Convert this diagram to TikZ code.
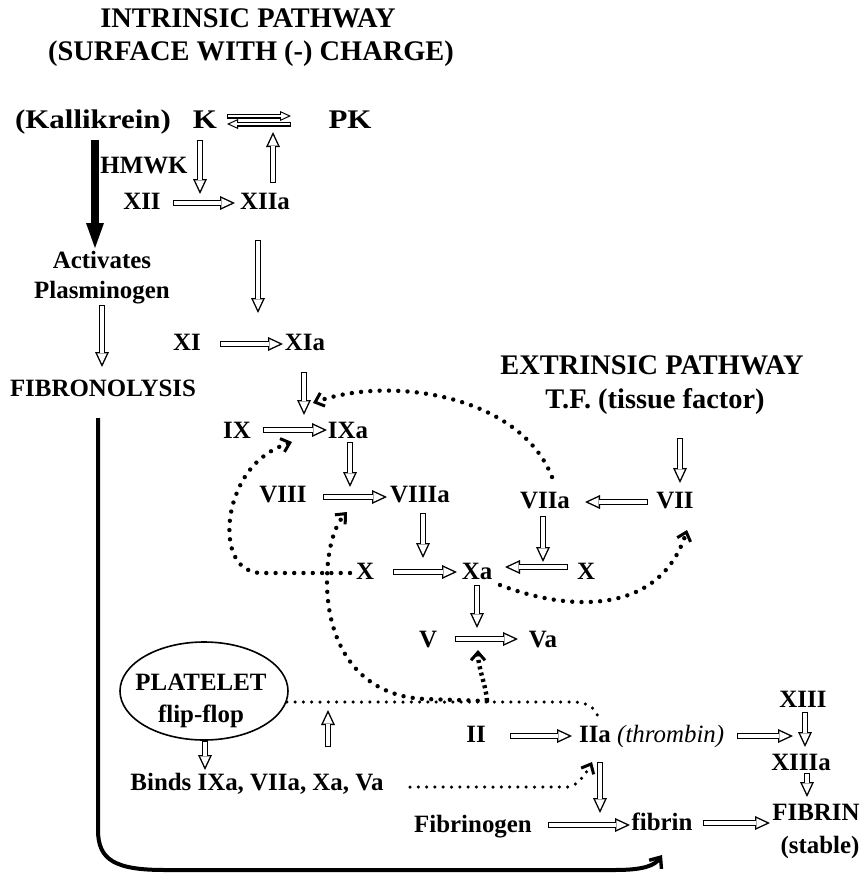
\documentclass[tikz,border=0pt]{standalone}
\usepackage{fontspec}
\setmainfont{Liberation Serif}
\newfontfamily\wideserif{Liberation Serif}[FakeStretch=1.15]
\usetikzlibrary{arrows.meta,shapes.geometric}

% hollow block arrow: black outline, white core
\newcommand\hol[4]{%
  \draw[holout] ([shift={(#2)}]#1) -- ([shift={(#4)}]#3);
  \draw[holin]  ([shift={(#2)}]#1) -- ([shift={(#4)}]#3);}
% smaller hollow arrow for the K / PK equilibrium
\newcommand\hols[4]{%
  \draw[holouts] ([shift={(#2)}]#1) -- ([shift={(#4)}]#3);
  \draw[holins]  ([shift={(#2)}]#1) -- ([shift={(#4)}]#3);}

\begin{document}
\begin{tikzpicture}[x=1bp,y=-1bp,
  lab/.style={font=\fontsize{25}{28}\selectfont\bfseries, inner sep=0pt, anchor=base},
  ttl/.style={font=\fontsize{28.5}{32}\selectfont\bfseries, inner sep=0pt, anchor=base},
  klab/.style={font=\wideserif\fontsize{27}{30}\selectfont\bfseries, inner sep=0pt, anchor=base},
  holout/.style={draw=black, line width=6.5bp, -{Triangle[length=15bp,width=14bp,line width=0pt]}},
  holin/.style={draw=white, line width=3.7bp, shorten >=3.31bp, shorten <=1.4bp,
                -{Triangle[length=10.29bp,width=9.6bp,line width=0pt]}},
  holouts/.style={draw=black, line width=5bp, -{Triangle[length=11bp,width=10bp,line width=0pt]}},
  holins/.style={draw=white, line width=2.8bp, shorten >=2.66bp, shorten <=1.1bp,
                -{Triangle[length=7.24bp,width=6.58bp,line width=0pt]}},
  dotsb/.style={line width=4.4bp, line cap=round, dash pattern=on 0bp off 9.3bp},
  dotss/.style={line width=3.5bp, line cap=round, dash pattern=on 0bp off 8.3bp},
  dotsq/.style={line width=4.4bp, line cap=butt, dash pattern=on 3bp off 3.5bp},
  tipb/.style={-{Straight Barb[length=8bp,width=14bp,line width=3bp]}},
  bigline/.style={line width=4bp, -{Straight Barb[length=9bp,width=15bp,line width=3.4bp]}},
  thickarr/.style={line width=8bp, -{Triangle[length=25bp,width=18bp,line width=0pt]}}
]
\fill[white] (0,0) rectangle (866,889);
\useasboundingbox (0,0) rectangle (866,889);

% ---------- headings ----------
\node[ttl] (t1) at (248,27) {INTRINSIC PATHWAY};
\node[ttl] (t2) at (251,60) {(SURFACE WITH (-) CHARGE)};
\node[ttl] (t3) at (652,374) {EXTRINSIC PATHWAY};
\node[ttl] (t4) at (655,408) {T.F. (tissue factor)};

% ---------- factors ----------
\node[klab] (kal) at (93,128) {(Kallikrein)};
\node[klab] (kk) at (205,128) {K};
\node[klab] (pk) at (350,128) {PK};
\node[lab] (hmwk) at (144,173) {HMWK};
\node[lab] (xii) at (142,209) {XII};
\node[lab] (xiia) at (265,209) {XIIa};
\node[lab] (act) at (102,268) {Activates};
\node[lab] (plas) at (102,298) {Plasminogen};
\node[lab] (fibro) at (103,396) {FIBRONOLYSIS};
\node[lab] (xi) at (187,350) {XI};
\node[lab] (xia) at (305,350) {XIa};
\node[lab] (ix) at (237,438) {IX};
\node[lab] (ixa) at (348,438) {IXa};
\node[lab] (viii) at (283,502) {VIII};
\node[lab] (viiia) at (420,502) {VIIIa};
\node[lab] (viia) at (545,508) {VIIa};
\node[lab] (vii) at (675,508) {VII};
\node[lab] (xl) at (365,579) {X};
\node[lab] (xa) at (477,579) {Xa};
\node[lab] (xr) at (586,579) {X};
\node[lab] (v) at (428,647) {V};
\node[lab] (va) at (543,647) {Va};
\node[draw, ellipse, line width=1.6bp, minimum width=168bp, minimum height=98bp, inner sep=0pt] (plt) at (204,691) {};
\node[lab] (pl1) at (201,690) {PLATELET};
\node[lab] (pl2) at (201,722) {flip-flop};
\node[lab] (ii) at (476,742) {II};
\node[lab] (iia) at (595,742) {IIa};
\node[lab, font=\fontsize{25}{28}\selectfont\itshape, anchor=base west] (thr) at (617,742) {(thrombin)};
\node[lab] (xiii) at (803,707) {XIII};
\node[lab] (xiiia) at (801,770) {XIIIa};
\node[lab] (fbr) at (816,820) {FIBRIN};
\node[lab] (stab) at (820,853) {(stable)};
\node[lab] (binds) at (257,790) {Binds IXa, VIIa, Xa, Va};
\node[lab] (fgen) at (473,832) {Fibrinogen};
\node[lab] (fbn) at (662,830) {fibrin};
\coordinate (fb) at (487,701);

% ---------- kallikrein branch ----------
\draw[thickarr] ([shift={(2,12)}]kal.base) -- ([shift={(-7,-20)}]act.base);
\draw[bigline] ([shift={(-5,22)}]fibro.base) -- (98,830)
  .. controls (98,860) and (115,870) .. (165,870) -- (615,870)
  .. controls (645,870) and (655,865) .. ([shift={(0,25)}]fbn.base);

% ---------- hollow reaction arrows ----------
\hols{kk.base}{22,-12}{pk.base}{-59,-12}
\hols{pk.base}{-59,-4}{kk.base}{22,-4}
\hol{kk.base}{-5,12}{xiia.base}{-65,-15}
\hol{xiia.base}{8,-26}{pk.base}{-77,4}
\hol{xii.base}{31,-6}{xiia.base}{-30,-6}
\hol{xiia.base}{-7,31}{xia.base}{-47,-37}
\hol{plas.base}{0,7}{fibro.base}{-1,-29}
\hol{xi.base}{33,-6}{xia.base}{-22,-6}
\hol{xia.base}{-1,22}{ixa.base}{-44,-23}
\hol{t4.base}{25,30}{vii.base}{5,-25}
\hol{ix.base}{26,-8}{ixa.base}{-21,-8}
\hol{ixa.base}{2,4}{viiia.base}{-70,-15}
\hol{viii.base}{40,-5}{viiia.base}{-33,-5}
\hol{vii.base}{-27,-6}{viia.base}{40,-6}
\hol{viiia.base}{3,11}{xa.base}{-54,-21}
\hol{viia.base}{-2,8}{xa.base}{66,-17}
\hol{xl.base}{28,-7}{xa.base}{-20,-7}
\hol{xr.base}{-18,-12}{xa.base}{28,-12}
\hol{xa.base}{0,6}{va.base}{-66,-19}
\hol{v.base}{27,-8}{va.base}{-25,-8}
\hol{binds.base}{71,-43}{plt.center}{124,19}
\hol{plt.south}{1,0}{binds.base}{-52,-20}
\hol{ii.base}{34,-6}{iia.base}{-23,-6}
\hol{iia.base}{5,20}{fbn.base}{-62,-17}
\hol{fgen.base}{75,-7}{fbn.base}{-32,-5}
\hol{fbn.base}{41,-7}{fbr.base}{-46,3}
\hol{iia.base}{142,-6}{xiii.base}{-10,29}
\hol{xiii.base}{2,5}{xiiia.base}{4,-23}
\hol{xiiia.base}{6,3}{fbr.base}{-9,-23}

% ---------- dotted feedback paths ----------
\draw[dotsb, tipb] ([shift={(7,-31)}]viia.base)
  .. controls (520,395) and (390,375) .. ([shift={(-35,-35)}]ixa.base);
\draw[dotsb, tipb] ([shift={(-15,-6)}]xl.base) -- (262,573)
  .. controls (226,573) and (224,525) .. (236,495)
  .. controls (247,465) and (268,450) .. ([shift={(55,4)}]ix.base);
\draw[dotsb, tipb] (fb) -- (425,699)
  .. controls (355,696) and (327,640) .. (327,582)
  .. controls (327,548) and (335,525) .. ([shift={(-73,10)}]viiia.base);
\draw[dotss] ([shift={(-2,11)}]plt.east) -- (575,702)
  .. controls (590,703) and (597,710) .. ([shift={(3,-24)}]iia.base);
\draw[dotsq, tipb] (fb) .. controls (486,685) and (478,668) .. ([shift={(-65,3)}]va.base);
\draw[dotsb, tipb] ([shift={(23,6)}]xa.base)
  .. controls (570,612) and (660,615) .. ([shift={(12,22)}]vii.base);
\draw[dotss, tipb] ([shift={(153,-3)}]binds.base) -- (568,787)
  .. controls (578,786) and (587,772) .. ([shift={(-3,20)}]iia.base);
\end{tikzpicture}
\end{document}
